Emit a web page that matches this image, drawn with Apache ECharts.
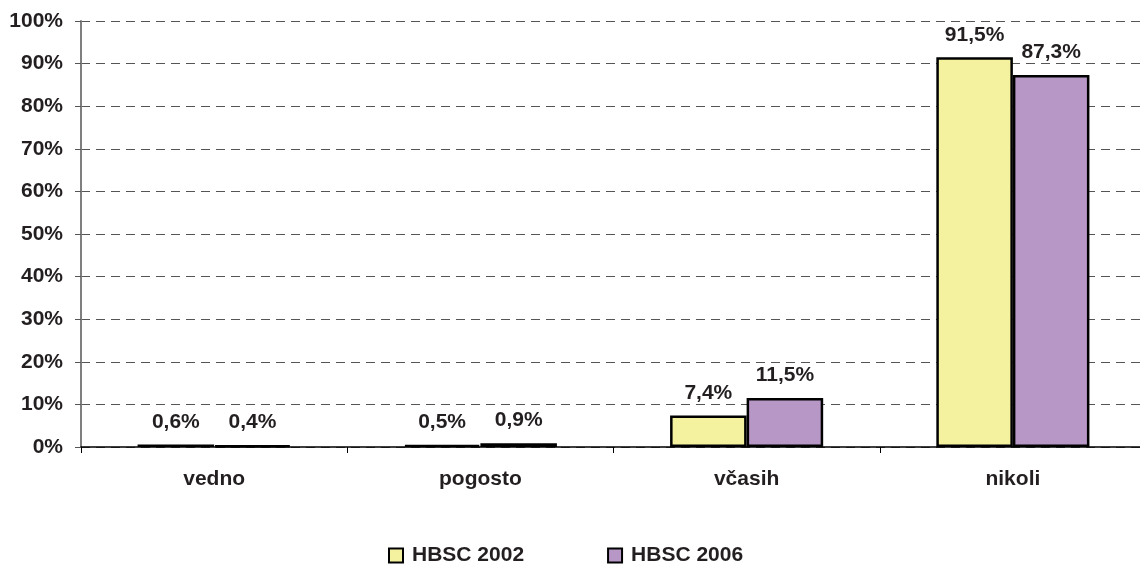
<!DOCTYPE html>
<html>
<head>
<meta charset="utf-8">
<script src="https://cdn.jsdelivr.net/npm/echarts@6/dist/echarts.min.js"></script>
<style>
  html, body { margin: 0; padding: 0; background: #fff; }
  #chart { width: 1140px; height: 565px; }
</style>
</head>
<body>
<div id="chart"></div>
<script>
// Answer categories and shares per survey year (percent)
const categories = ['vedno', 'pogosto', 'včasih', 'nikoli'];
const hbsc2002 = [0.6, 0.5, 7.4, 91.5];
const hbsc2006 = [0.4, 0.9, 11.5, 87.3];
const seriesNames = ['HBSC 2002', 'HBSC 2006'];

const textColor = '#231f20';
const font = { fontFamily: 'Liberation Sans, Arial, sans-serif', fontWeight: 'bold', fontSize: 21, color: textColor };

const fmtPct = v => v.toFixed(1).replace('.', ',') + '%';

function barSeries(name, data, color) {
  return {
    name: name,
    type: 'bar',
    data: data,
    barGap: '0%',
    barCategoryGap: '42.5%',
    itemStyle: { color: color, borderColor: '#000', borderWidth: 2.5 },
    label: {
      show: true,
      position: 'top',
      distance: 12,
      formatter: p => fmtPct(p.value),
      ...font
    }
  };
}

const chart = echarts.init(document.getElementById('chart'), null, { renderer: 'canvas' });
chart.setOption({
  animation: false,
  backgroundColor: '#fff',
  // plot area runs slightly past the right edge of the canvas
  grid: { left: 81, top: 21, width: 1065, height: 426, containLabel: false, outerBoundsMode: 'none' },
  legend: {
    top: 540,
    left: 383,
    itemGap: 83,
    itemWidth: 14,
    itemHeight: 14,
    icon: 'rect',
    itemStyle: { borderColor: '#000', borderWidth: 2 },
    textStyle: { ...font, padding: [0, 0, 0, 4] },
    data: seriesNames
  },
  xAxis: {
    type: 'category',
    data: categories,
    axisLine: { lineStyle: { color: '#000', width: 1.5 } },
    axisTick: { show: true, alignWithLabel: false, length: 6, lineStyle: { color: '#000' } },
    axisLabel: { ...font, margin: 22 }
  },
  yAxis: {
    type: 'value',
    min: 0,
    max: 100,
    interval: 10,
    axisLine: { show: true, lineStyle: { color: '#7f7f7f', width: 2 } },
    axisTick: { show: true, length: 6, lineStyle: { color: '#555' } },
    axisLabel: { ...font, margin: 18, formatter: v => v + '%' },
    splitLine: { show: true, lineStyle: { color: '#555', type: [9, 6], width: 1 } }
  },
  series: [
    barSeries(seriesNames[0], hbsc2002, '#f4f29f'),
    barSeries(seriesNames[1], hbsc2006, '#b797c6')
  ]
});
</script>
</body>
</html>
